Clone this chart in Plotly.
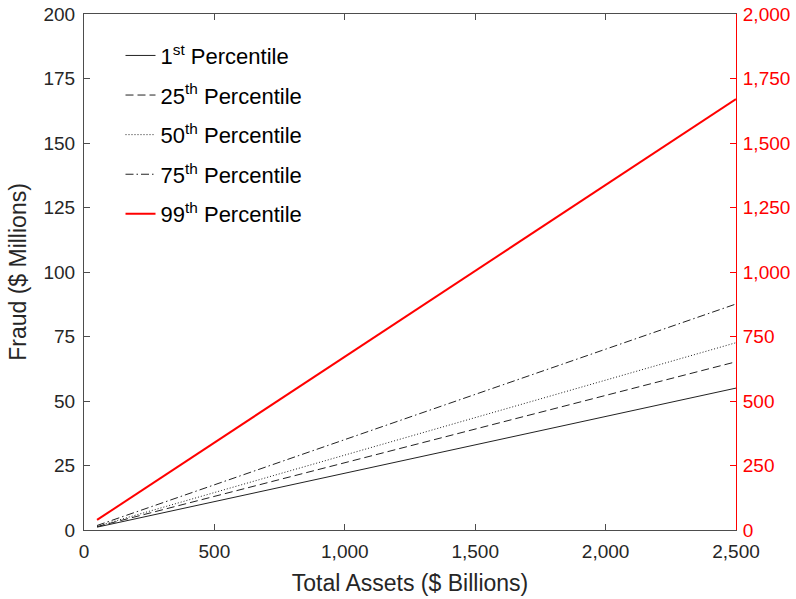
import plotly.graph_objects as go

# Data
assets = [50, 2500]
p1 = [1.1, 55.0]
p25 = [1.3, 65.2]
p50 = [1.45, 72.6]
p75 = [1.75, 87.6]
p99 = [39, 1670]  # right axis

names = ["1<sup>st</sup> Percentile", "25<sup>th</sup> Percentile", "50<sup>th</sup> Percentile",
         "75<sup>th</sup> Percentile", "99<sup>th</sup> Percentile"]

fig = go.Figure()
series = [(p1, "solid"), (p25, "8px,4px"), (p50, "1px,2px"), (p75, "8px,3px,1.5px,3px")]
for i, (vals, dash) in enumerate(series):
    fig.add_trace(go.Scatter(x=assets, y=vals, mode="lines", name=names[i], legendgroup=f"g{i}",
                             line=dict(color="#222222", width=1, dash=dash)))
fig.add_trace(go.Scatter(x=assets, y=p99, mode="lines", name=names[4], yaxis="y2", legendgroup="g4",
                         line=dict(color="#ff0000", width=2)))

axis_col = "#4d4d4d"
fig.update_layout(
    width=796, height=599,
    margin=dict(l=84, r=60, t=14, b=69),
    paper_bgcolor="white", plot_bgcolor="white",
    font=dict(family="Liberation Sans, Arial", color="#262626", size=19),
    showlegend=True,
    legend=dict(x=0.056, y=0.96, xanchor="left", yanchor="top",
                bgcolor="rgba(0,0,0,0)", font=dict(size=22, color="#000000"),
                tracegroupgap=8, itemwidth=30),
    xaxis=dict(range=[0, 2500], dtick=500, tickformat=",", showgrid=False, zeroline=False,
               showline=True, linecolor=axis_col, linewidth=1, mirror="ticks",
               ticks="inside", ticklen=6, tickcolor=axis_col, automargin=False,
               tickfont=dict(size=19), ticklabelstandoff=4,
               title=dict(text="Total Assets ($ Billions)", font=dict(size=23), standoff=14)),
    yaxis=dict(range=[0, 200], dtick=25, showgrid=False, zeroline=False,
               showline=True, linecolor=axis_col, linewidth=1, automargin=False,
               ticks="inside", ticklen=6, tickcolor=axis_col, tickfont=dict(size=19),
               ticklabelstandoff=4,
               title=dict(text="Fraud ($ Millions)", font=dict(size=23), standoff=10)),
    yaxis2=dict(range=[0, 2000], dtick=250, tickformat=",", overlaying="y", side="right",
                showgrid=False, zeroline=False, showline=True, linecolor="#ff0000", linewidth=1,
                ticks="inside", ticklen=6, tickcolor="#ff0000", automargin=False,
                ticklabelstandoff=2,
                tickfont=dict(color="#ff0000", size=19)),
)

fig.write_html("out.html", config={"displayModeBar": False},
               post_script="document.body.style.margin='0px';")
